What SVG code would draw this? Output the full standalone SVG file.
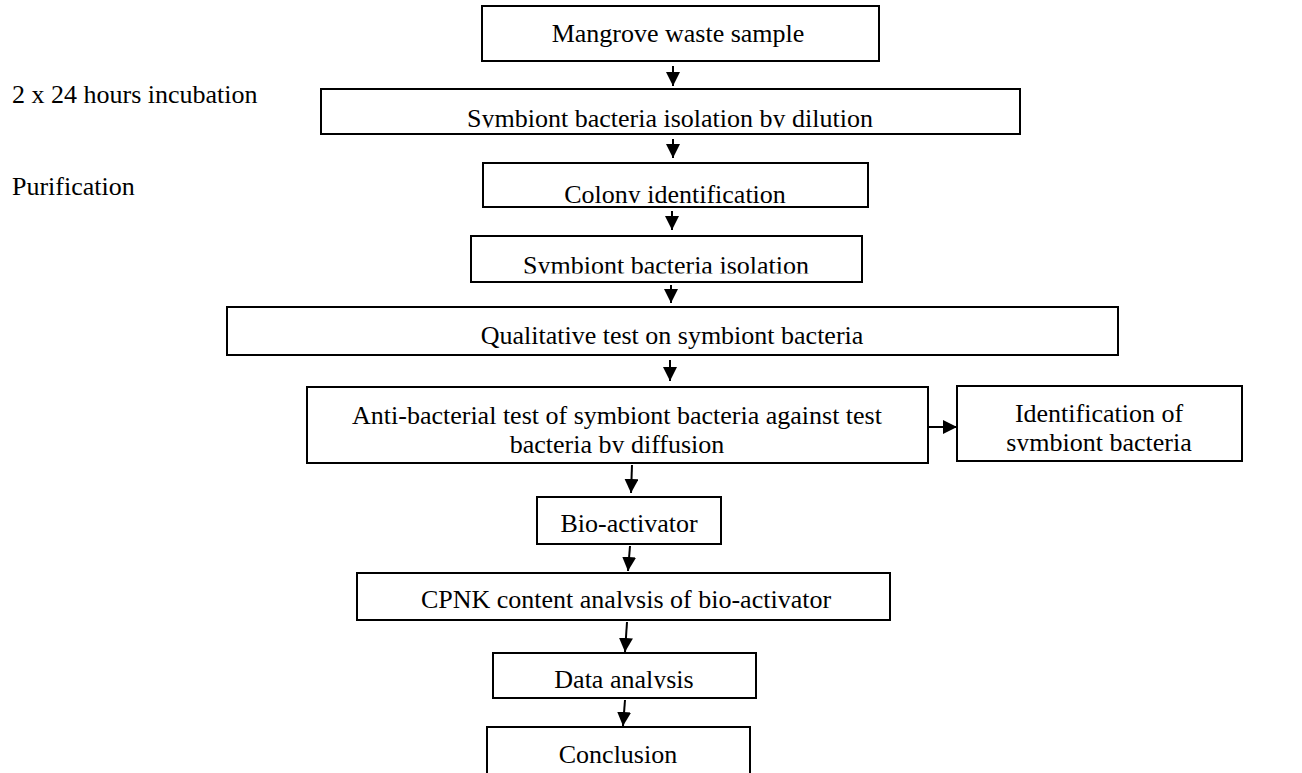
<svg xmlns="http://www.w3.org/2000/svg" width="1302" height="773" viewBox="0 0 1302 773">
<style>
.box{fill:#fff;stroke:#000;stroke-width:2}
.t{font-family:"Liberation Serif","Times New Roman",serif;font-size:26px;fill:#000;text-anchor:middle}
.l{font-family:"Liberation Serif","Times New Roman",serif;font-size:26px;fill:#000}
.c{stroke:#000;stroke-width:2;fill:none;marker-end:url(#ah)}
</style>
<defs>
<marker id="ah" markerUnits="userSpaceOnUse" markerWidth="14" markerHeight="14" viewBox="0 0 14 14" refX="14" refY="7" orient="auto">
<path d="M0,0 L14,7 L0,14 z" fill="#000"/>
</marker>
<clipPath id="c2"><rect x="322" y="90" width="697" height="37.5"/></clipPath>
<clipPath id="c3"><rect x="484" y="164" width="383" height="39"/></clipPath>
<clipPath id="c4"><rect x="472" y="237" width="389" height="36.5"/></clipPath>
<clipPath id="c6"><rect x="308" y="388" width="619" height="65"/></clipPath>
<clipPath id="cr"><rect x="958" y="387" width="283" height="64"/></clipPath>
<clipPath id="c8"><rect x="358" y="574" width="531" height="34"/></clipPath>
<clipPath id="c9"><rect x="494" y="654" width="261" height="34.5"/></clipPath>
</defs>
<rect width="1302" height="773" fill="#fff"/>
<g id="side-labels">
<text class="l" x="12" y="103">2 x 24 hours incubation</text>
<text class="l" x="12" y="195">Purification</text>
</g>
<g id="n1"><rect class="box" x="482" y="6" width="397" height="55"/><text class="t" x="678" y="42">Mangrove waste sample</text></g>
<g id="n2"><rect class="box" x="321" y="89" width="699" height="45"/><text class="t" x="670" y="127" clip-path="url(#c2)">Symbiont bacteria isolation by dilution</text></g>
<g id="n3"><rect class="box" x="483" y="163" width="385" height="44"/><text class="t" x="675" y="202.5" clip-path="url(#c3)">Colony identification</text></g>
<g id="n4"><rect class="box" x="471" y="236" width="391" height="46"/><text class="t" x="666" y="273.5" clip-path="url(#c4)">Symbiont bacteria isolation</text></g>
<g id="n5"><rect class="box" x="227" y="307" width="891" height="48"/><text class="t" x="672" y="343.5">Qualitative test on symbiont bacteria</text></g>
<g id="n6"><rect class="box" x="307" y="387" width="621" height="76"/><text class="t" clip-path="url(#c6)"><tspan x="617" y="423.5">Anti-bacterial test of symbiont bacteria against test</tspan><tspan x="617" y="452.5">bacteria by diffusion</tspan></text></g>
<g id="n7"><rect class="box" x="957" y="386" width="285" height="75"/><text class="t" clip-path="url(#cr)"><tspan x="1099" y="421.5">Identification of</tspan><tspan x="1099" y="451">symbiont bacteria</tspan></text></g>
<g id="n8"><rect class="box" x="537" y="497" width="184" height="47"/><text class="t" x="629" y="532">Bio-activator</text></g>
<g id="n9"><rect class="box" x="357" y="573" width="533" height="47"/><text class="t" x="626" y="607.5" clip-path="url(#c8)">CPNK content analysis of bio-activator</text></g>
<g id="n10"><rect class="box" x="493" y="653" width="263" height="45"/><text class="t" x="624" y="688" clip-path="url(#c9)">Data analysis</text></g>
<g id="n11"><rect class="box" x="487" y="727" width="263" height="60"/><text class="t" x="618" y="763">Conclusion</text></g>
<g id="connectors">
<path class="c" d="M673,66 L673,86"/>
<path class="c" d="M673,139 L673,158"/>
<path class="c" d="M672,211 L672,230"/>
<path class="c" d="M671,285 L671,303"/>
<path class="c" d="M670,360 L670,381"/>
<path class="c" d="M928,427 L957,427"/>
<path class="c" d="M632,465 L631,493"/>
<path class="c" d="M630,546 L628,571"/>
<path class="c" d="M627,622 L625,652"/>
<path class="c" d="M625,700 L623,726"/>
</g>
</svg>
